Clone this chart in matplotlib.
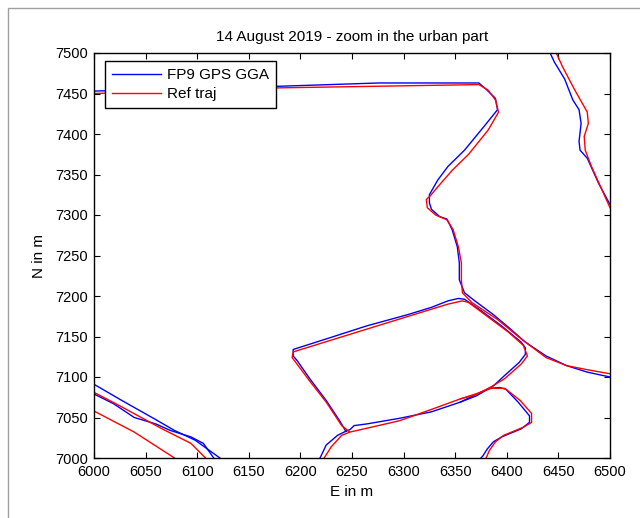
import matplotlib
matplotlib.use("Agg")
import matplotlib.pyplot as plt
from matplotlib.patches import Rectangle

plt.rcParams['font.family'] = ['Liberation Sans', 'DejaVu Sans']

# ---- GPS (FP9 GGA) track segments, E/N in metres ----
gps_north_e = [6000, 6181, 6276, 6373, 6381, 6389, 6391, 6379, 6359, 6343, 6333, 6325, 6325, 6327,
               6335, 6342, 6347, 6352, 6354, 6354, 6359, 6369, 6387, 6402, 6418, 6438, 6458, 6478, 6500]
gps_north_n = [7453, 7459, 7463, 7463, 7454, 7444, 7430, 7411, 7380, 7360, 7343, 7325, 7315, 7307,
               7298, 7295, 7282, 7261, 7241, 7220, 7204, 7194, 7177, 7161, 7143, 7126, 7114, 7106, 7100]

gps_ne_e = [6442, 6446, 6456, 6464, 6470, 6472, 6470, 6471, 6478, 6489, 6500]
gps_ne_n = [7500, 7489, 7468, 7442, 7430, 7413, 7391, 7380, 7370, 7339, 7313]

gps_block_e = [6244, 6238, 6225, 6209, 6197, 6193, 6193, 6225, 6264, 6304, 6327, 6343, 6353, 6359,
               6375, 6395, 6414, 6418, 6418, 6412, 6398, 6387, 6371, 6355, 6327, 6296, 6264, 6252,
               6248, 6244, 6236, 6225, 6219]
gps_block_n = [7033, 7046, 7071, 7098, 7120, 7126, 7134, 7147, 7163, 7177, 7186, 7194, 7197, 7196,
               7182, 7163, 7143, 7136, 7128, 7118, 7102, 7089, 7077, 7069, 7057, 7049, 7042, 7040,
               7035, 7033, 7028, 7016, 7000]

gps_loop_e = [6355, 6371, 6383, 6393, 6399, 6411, 6422, 6422, 6414, 6395, 6387, 6381, 6377, 6375]
gps_loop_n = [7069, 7079, 7086, 7087, 7085, 7069, 7052, 7044, 7036, 7026, 7020, 7011, 7003, 7000]

gps_sw1_e = [6000, 6027, 6059, 6078, 6098, 6110, 6122]
gps_sw1_n = [7091, 7071, 7048, 7034, 7022, 7011, 7000]
gps_sw2_e = [6000, 6019, 6039, 6060, 6074, 6094, 6106, 6116]
gps_sw2_n = [7079, 7067, 7050, 7042, 7034, 7026, 7018, 7000]

# ---- Reference trajectory segments ----
ref_north_e = [6000, 6181, 6276, 6373, 6382, 6389, 6392, 6382, 6363, 6347, 6336, 6326, 6322, 6323,
               6331, 6342, 6348, 6353, 6356, 6356, 6357, 6366, 6391, 6414, 6438, 6458, 6478, 6500]
ref_north_n = [7450, 7457, 7459, 7461, 7454, 7442, 7427, 7405, 7375, 7355, 7339, 7324, 7319, 7309,
               7300, 7294, 7282, 7261, 7241, 7220, 7204, 7192, 7171, 7147, 7124, 7114, 7109, 7104]

ref_ne_e = [6448, 6454, 6466, 6478, 6479, 6475, 6476, 6482, 6500]
ref_ne_n = [7500, 7483, 7454, 7427, 7413, 7397, 7380, 7360, 7309]

ref_block_e = [6247, 6240, 6225, 6209, 6192, 6193, 6264, 6343, 6357, 6363, 6383, 6402, 6416,
               6420, 6414, 6398, 6385, 6370, 6355, 6327, 6296, 6248, 6240, 6230, 6223]
ref_block_n = [7033, 7040, 7069, 7095, 7124, 7131, 7159, 7190, 7194, 7192, 7173, 7155, 7139,
               7126, 7116, 7098, 7088, 7078, 7073, 7060, 7046, 7032, 7028, 7014, 7000]

ref_loop_e = [6355, 6372, 6385, 6398, 6413, 6424, 6424, 6416, 6397, 6389, 6383, 6380]
ref_loop_n = [7073, 7080, 7086, 7086, 7071, 7055, 7044, 7038, 7028, 7020, 7009, 7000]

ref_sw1_e = [6000, 6027, 6066, 6094, 6108]
ref_sw1_n = [7081, 7063, 7036, 7018, 7000]
ref_sw2_e = [6000, 6039, 6078]
ref_sw2_n = [7058, 7032, 7000]

x_ticks = list(range(6000, 6501, 50))
y_ticks = list(range(7000, 7501, 50))

fig = plt.figure(figsize=(6.4, 5.18), dpi=100)
fig.patches.append(Rectangle((8 / 640, -0.1), 1.2, 1 - 8 / 518 + 0.1, transform=fig.transFigure,
                             fill=False, edgecolor='#a0a0a0', linewidth=1.0))
ax = fig.add_axes([94 / 640, 60 / 518, 516 / 640, 405 / 518])

gps_segments = [(gps_north_e, gps_north_n), (gps_ne_e, gps_ne_n), (gps_block_e, gps_block_n),
                (gps_loop_e, gps_loop_n), (gps_sw1_e, gps_sw1_n), (gps_sw2_e, gps_sw2_n)]
ref_segments = [(ref_north_e, ref_north_n), (ref_ne_e, ref_ne_n), (ref_block_e, ref_block_n),
                (ref_loop_e, ref_loop_n), (ref_sw1_e, ref_sw1_n), (ref_sw2_e, ref_sw2_n)]

for i, (e, n) in enumerate(gps_segments):
    ax.plot(e, n, color='#0000ff', linewidth=1.0, label='FP9 GPS GGA' if i == 0 else None)
for i, (e, n) in enumerate(ref_segments):
    ax.plot(e, n, color='#ff0000', linewidth=1.0, label='Ref traj' if i == 0 else None)

ax.set_xlim(6000, 6500)
ax.set_ylim(7000, 7500)
ax.set_xticks(x_ticks)
ax.set_yticks(y_ticks)
ax.tick_params(direction='in', top=True, right=True, labelsize=10.5, length=4, width=0.8)
ax.tick_params(axis='x', pad=5.2)
ax.tick_params(axis='y', pad=4.4)
for s in ax.spines.values():
    s.set_linewidth(1.0)
ax.set_title('14 August 2019 - zoom in the urban part', fontsize=11, pad=8.5)
ax.set_xlabel('E in m', fontsize=11, labelpad=4)
ax.set_ylabel('N in m', fontsize=11, labelpad=6.5)

leg = ax.legend(loc='upper left', bbox_to_anchor=(0.021, 0.98), borderaxespad=0, fontsize=11,
                fancybox=False, framealpha=1, edgecolor='black', handlelength=3.2,
                handletextpad=0.4, borderpad=0.45, labelspacing=0.35)
leg.get_frame().set_linewidth(1.0)

fig.savefig('out.png', dpi=100)
